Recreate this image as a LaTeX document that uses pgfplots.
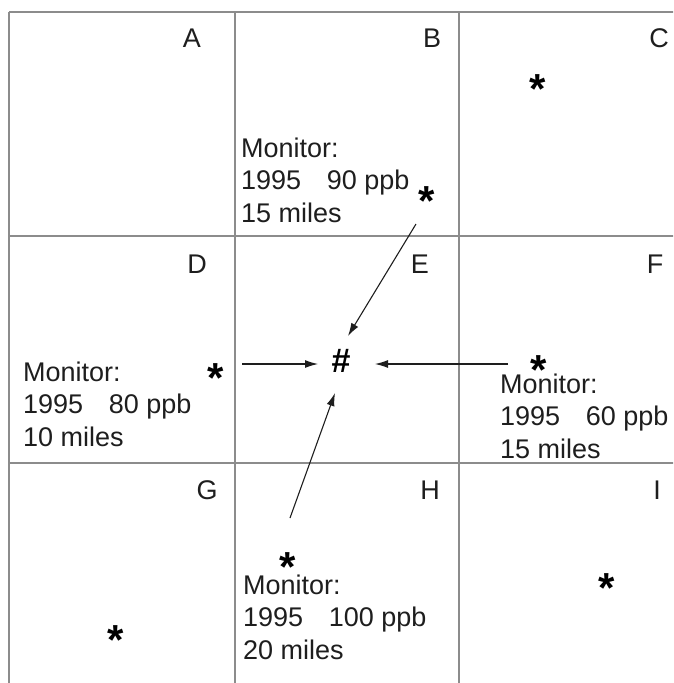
\documentclass[border=0pt]{standalone}
\usepackage{pgfplots}
\pgfplotsset{compat=1.18}
\usepackage{fontspec}
\setmainfont{Liberation Sans}
\usetikzlibrary{arrows.meta}
\definecolor{gridgray}{HTML}{8C8C8C}
\definecolor{ink}{HTML}{1E1E1E}

\newcommand{\labfont}{\fontsize{27}{33}\selectfont}
% one monitor text block: x, first baseline, ppb line, miles line
\newcommand{\mon}[4]{%
  \node[anchor=base west,inner sep=0pt,font=\labfont] at (axis cs:#1,#2) {Monitor:};
  \node[anchor=base west,inner sep=0pt,font=\labfont] at (axis cs:#1,#2+32.5) {1995\hspace{0.95em}#3};
  \node[anchor=base west,inner sep=0pt,font=\labfont] at (axis cs:#1,#2+65) {#4};
}

\begin{document}
\begin{tikzpicture}
\begin{axis}[
  width=673pt, height=683pt, scale only axis,
  xmin=0, xmax=673, ymin=0, ymax=683,
  y dir=reverse,
  hide axis,
  clip=true,
]
% cell grid
\addplot[gridgray, line width=1.8pt] coordinates {(9,12) (700,12)};
\addplot[gridgray, line width=1.8pt] coordinates {(9,236) (700,236)};
\addplot[gridgray, line width=1.8pt] coordinates {(9,463) (700,463)};
\addplot[gridgray, line width=1.8pt] coordinates {(9,12) (9,700)};
\addplot[gridgray, line width=1.8pt] coordinates {(235,12) (235,700)};
\addplot[gridgray, line width=1.8pt] coordinates {(459,12) (459,700)};

% arrows toward the site
\addplot[ink, line width=1.1pt, -{Latex[length=13pt,width=8pt]}] coordinates {(416,224) (348,336)};
\addplot[ink, line width=1.1pt, -{Latex[length=13pt,width=8pt]}] coordinates {(242,364) (318,364)};
\addplot[ink, line width=1.1pt, -{Latex[length=13pt,width=8pt]}] coordinates {(508,364) (375,364)};
\addplot[ink, line width=1.1pt, -{Latex[length=13pt,width=8pt]}] coordinates {(290,518) (335,393)};

% monitors
\addplot[only marks, color=ink, mark=text,
  text mark={\fontsize{42}{42}\selectfont\bfseries\raisebox{-0.50em}[0pt][0pt]{*}}]
  coordinates {(538,82) (427,194) (216,371) (539,363) (288,560) (607,581) (116,633)};

% site
\addplot[only marks, color=ink, mark=text,
  text mark={\fontsize{34}{34}\selectfont\bfseries\raisebox{-0.36em}[0pt][0pt]{\#}}]
  coordinates {(341,360)};

% cell letters
\node[inner sep=0pt,font=\labfont,text=ink] at (axis cs:192,38) {A};
\node[inner sep=0pt,font=\labfont,text=ink] at (axis cs:432,38) {B};
\node[inner sep=0pt,font=\labfont,text=ink] at (axis cs:659,38) {C};
\node[inner sep=0pt,font=\labfont,text=ink] at (axis cs:197,264) {D};
\node[inner sep=0pt,font=\labfont,text=ink] at (axis cs:420,264) {E};
\node[inner sep=0pt,font=\labfont,text=ink] at (axis cs:655,264) {F};
\node[inner sep=0pt,font=\labfont,text=ink] at (axis cs:207,490) {G};
\node[inner sep=0pt,font=\labfont,text=ink] at (axis cs:430,490) {H};
\node[inner sep=0pt,font=\labfont,text=ink] at (axis cs:657,490) {I};

\begin{scope}[text=ink]
\mon{241}{157}{90 ppb}{15 miles}
\mon{23}{381}{80 ppb}{10 miles}
\mon{500}{393}{60 ppb}{15 miles}
\mon{243}{594}{100 ppb}{20 miles}
\end{scope}
\end{axis}
\pgfresetboundingbox
\path (current axis.south west) rectangle (current axis.north east);
\end{tikzpicture}
\end{document}
